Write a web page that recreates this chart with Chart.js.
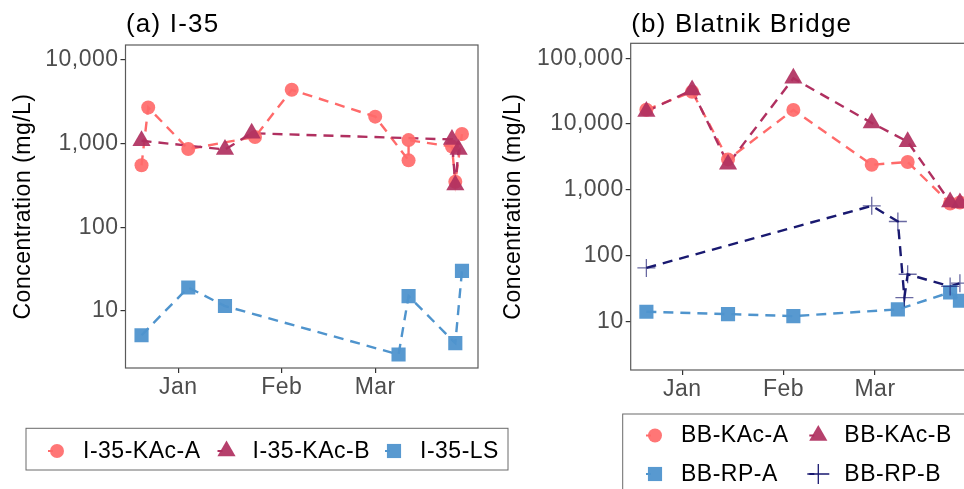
<!DOCTYPE html>
<html>
<head>
<meta charset="utf-8">
<script src="https://cdn.jsdelivr.net/npm/chart.js@4/dist/chart.umd.min.js"></script>
<style>
  html, body { margin: 0; padding: 0; width: 964px; height: 489px; overflow: hidden; background: #fff; }
  #wrap { position: relative; width: 964px; height: 489px; overflow: hidden; }
  #panelA { position: absolute; left: 0; top: 0; }
  #panelB { position: absolute; left: 490px; top: 0; }
</style>
</head>
<body>
<div id="wrap">
  <canvas id="panelA" width="520" height="489"></canvas>
  <canvas id="panelB" width="500" height="489"></canvas>
</div>
<script>
// ---- Data -------------------------------------------------------------
// x values are days counted from 1 January (December samples are negative)
const monthDays = [0, 31, 59];
const monthLabels = ['Jan', 'Feb', 'Mar'];

// (a) I-35, concentration in mg/L
const i35KAcADays   = [-11, -9, 3, 23, 34, 59, 69, 69, 82, 83, 85];
const i35KAcAValues = [550, 2700, 860, 1200, 4400, 2100, 630, 1100, 920, 350, 1300];
const i35KAcBDays   = [-11, 14, 22, 82, 83, 84];
const i35KAcBValues = [1080, 850, 1330, 1120, 320, 850];
const i35LSDays     = [-11, 3, 14, 66, 69, 83, 85];
const i35LSValues   = [5.1, 19, 11.4, 3.0, 15, 4.1, 30];
const i35YTicks     = [10, 100, 1000, 10000];

// (b) Blatnik Bridge, concentration in mg/L
const bbKAcADays   = [-11, 3, 14, 34, 58, 69, 82, 85];
const bbKAcAValues = [16500, 31000, 2900, 16400, 2400, 2650, 620, 640];
const bbKAcBDays   = [-11, 3, 14, 34, 58, 69, 82, 85];
const bbKAcBValues = [15500, 33000, 2450, 49600, 10400, 5400, 650, 630];
const bbRPADays    = [-11, 14, 34, 66, 82, 85];
const bbRPAValues  = [14, 12.9, 12, 15.2, 27.6, 20.6];
const bbRPBDays    = [-11, 58, 66, 68, 69, 82, 85];
const bbRPBValues  = [65, 570, 330, 23, 52, 34, 38];
const bbYTicks     = [10, 100, 1000, 10000, 100000];

// ---- Styles -----------------------------------------------------------
const FONT = '"Liberation Sans", Arial, Helvetica, sans-serif';
const STYLE = {
  kacA: { line: '#FF6A6A', fill: 'rgba(255,106,106,0.92)', shape: 'circle',   radius: 7 },
  kacB: { line: '#B03060', fill: 'rgba(176,48,96,0.92)',   shape: 'triangle', radius: 10.5 },
  blue: { line: '#4F94CD', fill: 'rgba(79,148,205,0.95)',  shape: 'rect',     radius: 10 },
  navy: { line: '#191970', fill: 'rgba(25,25,112,0.65)',   shape: 'cross',    radius: 9, stroke: true }
};

function points(days, values) {
  return days.map((d, i) => ({ x: d, y: values[i] }));
}

// one dashed line dataset (drawn underneath) + one marker dataset per series
function series(label, days, values, st, rank) {
  const data = points(days, values);
  return [
    {
      label, data, showLine: true, borderColor: st.line, borderWidth: 2.4,
      borderDash: [10, 7], pointRadius: 0, pointHoverRadius: 0, order: 20 - rank
    },
    {
      label, data, showLine: false, keyStyle: st,
      pointStyle: st.shape, pointRadius: st.radius, pointHoverRadius: st.radius,
      pointBackgroundColor: st.stroke ? 'rgba(0,0,0,0)' : st.fill,
      pointBorderColor: st.fill, pointBorderWidth: st.stroke ? 1.3 : 0,
      order: 10 - rank
    }
  ];
}

// ---- Drawing helpers ---------------------------------------------------
function drawKey(ctx, st, x, y) {
  ctx.save();
  ctx.setLineDash([]);
  ctx.strokeStyle = st.line;
  ctx.lineWidth = 2;
  ctx.beginPath();
  ctx.moveTo(x - 9, y);
  ctx.lineTo(x - 4, y);
  ctx.stroke();
  ctx.fillStyle = st.fill;
  const r = st.radius;
  ctx.beginPath();
  if (st.shape === 'circle') {
    ctx.arc(x, y, r, 0, Math.PI * 2);
    ctx.fill();
  } else if (st.shape === 'triangle') {
    for (let k = 0; k < 3; k++) {
      const a = k * 2 * Math.PI / 3;
      const px = x + Math.sin(a) * r, py = y - Math.cos(a) * r;
      k === 0 ? ctx.moveTo(px, py) : ctx.lineTo(px, py);
    }
    ctx.closePath();
    ctx.fill();
  } else if (st.shape === 'rect') {
    const s = r * Math.SQRT1_2;
    ctx.rect(x - s, y - s, 2 * s, 2 * s);
    ctx.fill();
  } else {
    ctx.strokeStyle = st.line;
    ctx.lineWidth = 1.3;
    ctx.moveTo(x - 11, y); ctx.lineTo(x + 11, y);
    ctx.moveTo(x, y - 10); ctx.lineTo(x, y + 10);
    ctx.stroke();
  }
  ctx.restore();
}

const panelDecor = {
  id: 'panelDecor',
  beforeDraw(chart) {
    chart.ctx.letterSpacing = '0.5px';
  },
  afterDatasetsDraw(chart) {
    const { ctx, chartArea: a } = chart;
    ctx.save();
    ctx.strokeStyle = '#5a5a5a';
    ctx.lineWidth = 1.2;
    ctx.setLineDash([]);
    ctx.strokeRect(a.left, a.top, a.right - a.left, a.bottom - a.top);
    ctx.restore();
  },
  afterDraw(chart, args, opts) {
    const { ctx, chartArea: a } = chart;
    ctx.save();
    // panel title
    ctx.letterSpacing = '1.2px';
    ctx.font = '26px ' + FONT;
    ctx.fillStyle = '#000';
    ctx.textBaseline = 'alphabetic';
    ctx.textAlign = 'left';
    ctx.fillText(opts.title, a.left + 0.5, 32);

    // legend
    const L = opts.legend;
    ctx.letterSpacing = '0.5px';
    ctx.strokeStyle = '#6a6a6a';
    ctx.lineWidth = 1;
    ctx.strokeRect(L.box[0], L.box[1], L.box[2], L.box[3]);
    const keys = chart.data.datasets.filter(d => d.keyStyle);
    ctx.font = '23px ' + FONT;
    ctx.textBaseline = 'middle';
    keys.forEach((d, i) => {
      const col = i % L.keyX.length;
      const row = Math.floor(i / L.keyX.length);
      const x = L.keyX[col], y = L.rowY[row];
      drawKey(ctx, d.keyStyle, x, y);
      ctx.fillStyle = '#000';
      ctx.fillText(d.label, x + 26, y + 0.5);
    });
    ctx.restore();
  }
};

function makeChart(id, cfg) {
  const tickFont = { family: FONT, size: 23 };
  return new Chart(document.getElementById(id), {
    type: 'scatter',
    data: { datasets: cfg.datasets },
    options: {
      responsive: false,
      animation: false,
      events: [],
      layout: { padding: cfg.padding },
      plugins: {
        legend: { display: false },
        tooltip: { enabled: false },
        panelDecor: { title: cfg.title, legend: cfg.legend }
      },
      scales: {
        x: {
          type: 'linear',
          min: -15.8, max: 89.8,
          afterFit: s => { s.height = 30; },
          afterBuildTicks: s => { s.ticks = monthDays.map(v => ({ value: v })); },
          ticks: {
            font: tickFont, color: '#4D4D4D', padding: 1, maxRotation: 0, autoSkip: false,
            callback: v => monthLabels[monthDays.indexOf(v)]
          },
          grid: { drawOnChartArea: false, drawTicks: true, tickLength: 5, color: '#333', lineWidth: 1.2 },
          border: { display: false }
        },
        y: {
          type: 'logarithmic',
          min: cfg.yMin, max: cfg.yMax,
          afterFit: s => { s.width = cfg.yWidth; },
          afterBuildTicks: s => { s.ticks = cfg.yTicks.map(v => ({ value: v })); },
          ticks: {
            font: tickFont, color: '#4D4D4D', padding: 2, autoSkip: false,
            callback: v => Number(v).toLocaleString('en-US')
          },
          grid: { drawOnChartArea: false, drawTicks: true, tickLength: 5, color: '#333', lineWidth: 1.2 },
          border: { display: false },
          title: {
            display: true, text: 'Concentration (mg/L)', color: '#000',
            font: { family: FONT, size: 23 }, padding: { top: 10, bottom: 0 }
          }
        }
      }
    },
    plugins: [panelDecor]
  });
}

makeChart('panelA', {
  title: '(a) I-35',
  datasets: [
    ...series('I-35-KAc-A', i35KAcADays, i35KAcAValues, STYLE.kacA, 1),
    ...series('I-35-KAc-B', i35KAcBDays, i35KAcBValues, STYLE.kacB, 2),
    ...series('I-35-LS', i35LSDays, i35LSValues, STYLE.blue, 3)
  ].sort((p, q) => (p.keyStyle ? 1 : 0) - (q.keyStyle ? 1 : 0)),
  padding: { left: 0, top: 45, right: 42, bottom: 91 },
  yWidth: 125.5, yMin: 2.07, yMax: 15100, yTicks: i35YTicks,
  legend: { box: [26, 428.3, 482, 41.7], keyX: [57, 226.5, 394], rowY: [451] }
});

makeChart('panelB', {
  title: '(b) Blatnik Bridge',
  datasets: [
    ...series('BB-KAc-A', bbKAcADays, bbKAcAValues, STYLE.kacA, 1),
    ...series('BB-KAc-B', bbKAcBDays, bbKAcBValues, STYLE.kacB, 2),
    ...series('BB-RP-A', bbRPADays, bbRPAValues, STYLE.blue, 3),
    ...series('BB-RP-B', bbRPBDays, bbRPBValues, STYLE.navy, 4)
  ].sort((p, q) => (p.keyStyle ? 1 : 0) - (q.keyStyle ? 1 : 0)),
  padding: { left: 0, top: 43.3, right: 14.4, bottom: 89 },
  yWidth: 140.7, yMin: 1.82, yMax: 169000, yTicks: bbYTicks,
  legend: { box: [132.7, 414, 400, 120], keyX: [165, 328.3], rowY: [435.5, 474] }
});
</script>
</body>
</html>
